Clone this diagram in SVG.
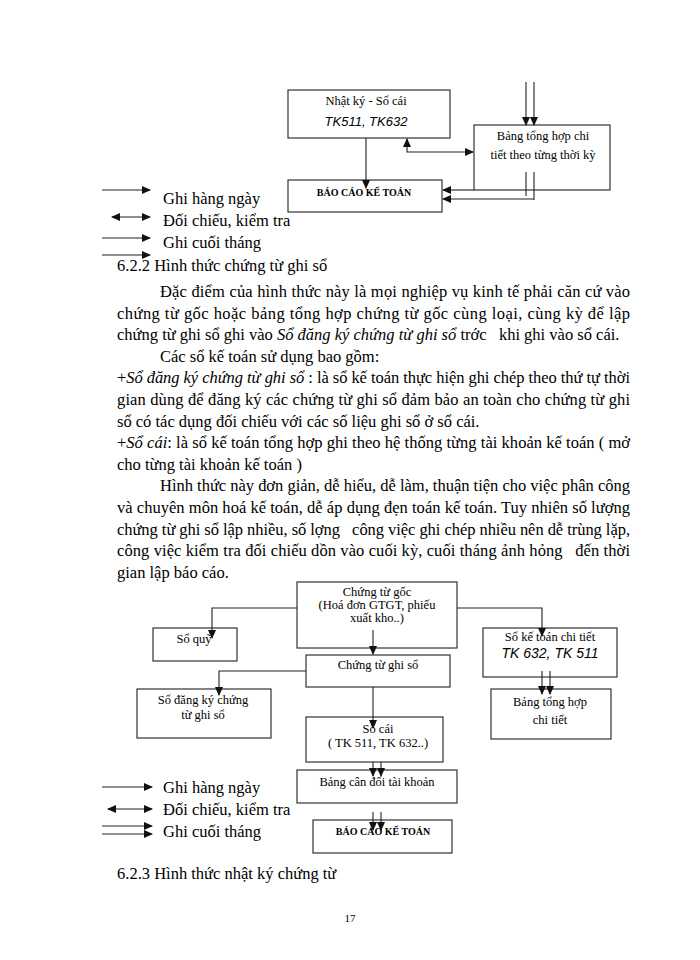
<svg xmlns="http://www.w3.org/2000/svg" width="700" height="960" viewBox="0 0 700 960">
<defs>
<marker id="ah" markerUnits="userSpaceOnUse" markerWidth="9" markerHeight="8" refX="8" refY="4" orient="auto-start-reverse" viewBox="0 0 9 8">
<path d="M0,0 L9,4 L0,8 Z" fill="#111"/>
</marker>
</defs>
<style>
.bg{fill:#fff}
.box{fill:#fff;stroke:#333;stroke-width:1.2}
.ln{fill:none;stroke:#222;stroke-width:1.1}
.ar{fill:none;stroke:#222;stroke-width:1.1;marker-end:url(#ah)}
.ar2{fill:none;stroke:#222;stroke-width:1.1;marker-end:url(#ah);marker-start:url(#ah)}
.t{font-family:"Liberation Serif","Times New Roman",serif;fill:#000}
.body{font-size:16.5px}
.bx{font-size:12.5px;text-anchor:middle}
.it{font-style:italic}
.sans{font-family:"Liberation Sans",Arial,sans-serif;font-style:italic;fill:#000;text-anchor:middle}
.bold{font-weight:bold;font-size:10px;text-anchor:middle}
</style>
<rect class="bg" x="0" y="0" width="700" height="960"/>

<g id="top-nhatky">
<rect class="box" x="288" y="90" width="162" height="48"/>
<text class="t bx" x="366" y="105">Nhật ký - Sổ cái</text>
<text class="sans" x="366" y="126" font-size="13">TK511, TK632</text>
</g>
<g id="top-bangtonghop">
<rect class="box" x="474" y="125" width="136" height="65"/>
<text class="t bx" x="543" y="140" font-size="13.5">Bảng tổng hợp chi</text>
<text class="t bx" x="543" y="159" font-size="13.5">tiết theo từng thời kỳ</text>
</g>
<g id="top-baocao">
<rect class="box" x="288" y="180" width="154" height="32"/>
<text class="t bold" x="364" y="196">BÁO CÁO KẾ TOÁN</text>
</g>

<g id="sq-chungtugoc">
<rect class="box" x="297" y="582" width="160" height="66"/>
<text class="t bx" x="377" y="596">Chứng từ gốc</text>
<text class="t bx" x="377" y="609">(Hoá đơn GTGT, phiếu</text>
<text class="t bx" x="377" y="622">xuất kho..)</text>
</g>
<g id="sq-soquy">
<rect class="box" x="153" y="628" width="84" height="33"/>
<text class="t bx" x="194" y="643">Sổ quỹ</text>
</g>
<g id="sq-chungtughiso">
<rect class="box" x="306" y="655" width="144" height="32"/>
<text class="t bx" x="378" y="669">Chứng từ ghi sổ</text>
</g>
<g id="sq-sodangky">
<rect class="box" x="137" y="689" width="134" height="49"/>
<text class="t bx" x="203" y="704">Sổ đăng ký chứng</text>
<text class="t bx" x="203" y="719">từ ghi sổ</text>
</g>
<g id="sq-soketoanchitiet">
<rect class="box" x="483" y="628" width="134" height="49"/>
<text class="t bx" x="550" y="641" font-size="11">Sổ kế toán chi tiết</text>
<text class="sans" x="550" y="658" font-size="14">TK 632, TK 511</text>
</g>
<g id="sq-bangtonghopchitiet">
<rect class="box" x="491" y="689" width="120" height="50"/>
<text class="t bx" x="550" y="706">Bảng tổng hợp</text>
<text class="t bx" x="550" y="724">chi tiết</text>
</g>
<g id="sq-socai">
<rect class="box" x="306" y="717" width="137" height="45"/>
<text class="t bx" x="378" y="733">Sổ cái</text>
<text class="t bx" x="378" y="747">( TK 511, TK 632..)</text>
</g>
<g id="sq-bangcandoi">
<rect class="box" x="297" y="770" width="160" height="33"/>
<text class="t bx" x="377" y="786">Bảng cân đối tài khoản</text>
</g>
<g id="sq-baocao">
<rect class="box" x="313" y="820" width="139" height="33"/>
<text class="t bold" x="383" y="835">BÁO CÁO KẾ TOÁN</text>
</g>

<g id="connectors">
<path class="ar" d="M366,138 V188"/>
<path class="ar2" d="M407,139 V152 H473"/>
<path class="ar" d="M526,82 V125"/>
<path class="ar" d="M534,82 V125"/>
<path class="ln" d="M526,172 V196"/>
<path class="ln" d="M534,172 V200"/>
<path class="ar" d="M474,190 H443"/>
<path class="ar" d="M534,199 H443"/>

<path class="ar" d="M102,190 H150"/>
<path class="ar2" d="M112,217 H150"/>
<path class="ar" d="M102,238 H150"/>
<path class="ar" d="M102,255 H150"/>

<path class="ar" d="M297,608 H212 V638"/>
<path class="ar" d="M373,630 V654"/>
<path class="ar" d="M306,671 H219 V695"/>
<path class="ar" d="M373,687 V728"/>
<path class="ar" d="M457,608 H542 V636"/>
<path class="ar" d="M542,671 V694"/>
<path class="ar" d="M550,671 V694"/>
<path class="ar" d="M373,762 V776"/>
<path class="ar" d="M381,762 V776"/>
<path class="ar" d="M373,812 V830"/>
<path class="ar" d="M381,812 V830"/>

<path class="ar" d="M102,787 H152"/>
<path class="ar2" d="M108,809 H152"/>
<path class="ar" d="M102,826 H152"/>
<path class="ar" d="M102,834 H152"/>
</g>

<g id="legend-top" class="t body">
<text x="163" y="204">Ghi hàng ngày</text>
<text x="163" y="226">Đối chiếu, kiểm tra</text>
<text x="163" y="248">Ghi cuối tháng</text>
</g>
<g id="legend-bottom" class="t body">
<text x="163" y="793">Ghi hàng ngày</text>
<text x="163" y="815">Đối chiếu, kiểm tra</text>
<text x="163" y="837">Ghi cuối tháng</text>
</g>

<g id="text" class="t body">
<text x="117" y="271">6.2.2 Hình thức chứng từ ghi sổ</text>
<text x="160" y="297" textLength="470" lengthAdjust="spacing">Đặc điểm của hình thức này là mọi nghiệp vụ kinh tế phải căn cứ vào</text>
<text x="117" y="318.6" textLength="513" lengthAdjust="spacing">chứng từ gốc hoặc bảng tổng hợp chứng từ gốc cùng loại, cùng kỳ để lập</text>
<text x="117" y="340.2">chứng từ ghi sổ ghi vào <tspan class="it">Sổ đăng ký chứng từ ghi sổ</tspan> trớc&#160;&#160; khi ghi vào sổ cái.</text>
<text x="160" y="361.8">Các sổ kế toán sử dụng bao gồm:</text>
<text x="117" y="383.4" textLength="513" lengthAdjust="spacing">+<tspan class="it">Sổ đăng ký chứng từ ghi sổ</tspan> : là sổ kế toán thực hiện ghi chép theo thứ tự thời</text>
<text x="117" y="405" textLength="513" lengthAdjust="spacing">gian dùng để đăng ký các chứng từ ghi sổ đảm bảo an toàn cho chứng từ ghi</text>
<text x="117" y="426.6">sổ có tác dụng đối chiếu với các số liệu ghi sổ ở sổ cái.</text>
<text x="117" y="448.2" textLength="513" lengthAdjust="spacing">+<tspan class="it">Sổ cái</tspan>: là sổ kế toán tổng hợp ghi theo hệ thống từng tài khoản kế toán ( mở</text>
<text x="117" y="469.8">cho từng tài khoản kế toán )</text>
<text x="160" y="491.4" textLength="470" lengthAdjust="spacing">Hình thức này đơn giản, dễ hiểu, dễ làm, thuận tiện cho việc phân công</text>
<text x="117" y="513" textLength="513" lengthAdjust="spacing">và chuyên môn hoá kế toán, dễ áp dụng đẹn toán kế toán. Tuy nhiên số lượng</text>
<text x="117" y="534.6" textLength="513" lengthAdjust="spacing">chứng từ ghi sổ lập nhiều, số lợng&#160;&#160; công việc ghi chép nhiều nên dễ trùng lặp,</text>
<text x="117" y="556.2" textLength="513" lengthAdjust="spacing">công việc kiểm tra đối chiếu dồn vào cuối kỳ, cuối tháng ảnh hỏng&#160;&#160; đến thời</text>
<text x="117" y="577.8">gian lập báo cáo.</text>
<text x="117" y="879">6.2.3 Hình thức nhật ký chứng từ</text>
<text x="350" y="922" font-size="11" text-anchor="middle">17</text>
</g>
</svg>
